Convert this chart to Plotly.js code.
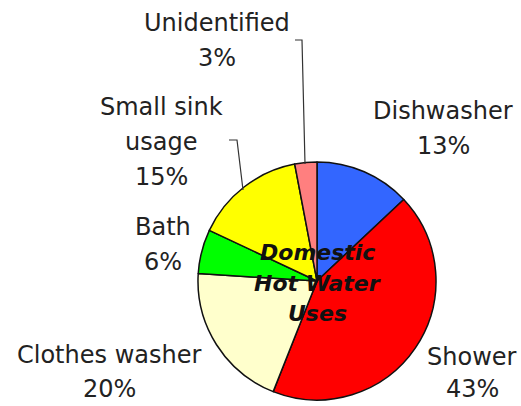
<!DOCTYPE html>
<html>
<head>
<meta charset="utf-8">
<script src="https://cdn.plot.ly/plotly-3.0.1.min.js"></script>
<style>html,body{margin:0;padding:0;background:#fff;}#chart{width:521px;height:406px;}</style>
</head>
<body>
<div id="chart"></div>
<script>
const categories = ['Dishwasher', 'Shower', 'Clothes washer', 'Bath', 'Small sink usage', 'Unidentified'];
const labelLines = [['Dishwasher'], ['Shower'], ['Clothes washer'], ['Bath'], ['Small sink', 'usage'], ['Unidentified']];
const shares = [13, 43, 20, 6, 15, 3];
const sliceColors = ['#3366FF', '#FF0000', '#FFFFCC', '#00FF00', '#FFFF00', '#FF7F7F'];
const centerTitle = ['Domestic', 'Hot Water', 'Uses'];

// label anchor: [x centre, y of first line, line gap] in pixels from top-left
const labelPos = [
  [443, 111, 35], [472, 357, 32], [109, 355, 34], [163, 227, 35], [161, 107, 35], [217, 23, 35]
];

const W = 521, H = 406;
const cx = 317, cy = 281, r = 119;
const px = (x) => x / W, py = (y) => 1 - y / H;

const trace = {
  type: 'pie',
  labels: categories,
  values: shares,
  sort: false,
  direction: 'clockwise',
  rotation: 0,
  textinfo: 'none',
  hoverinfo: 'label+percent',
  marker: { colors: sliceColors, line: { color: '#111', width: 1.5 } },
  domain: { x: [px(cx - r), px(cx + r)], y: [py(cy + r), py(cy - r)] },
  showlegend: false
};

const labelFont = { family: 'DejaVu Sans, sans-serif', size: 24, color: '#222' };
const annotations = [];
categories.forEach((c, i) => {
  const lines = labelLines[i].concat([shares[i] + '%']);
  lines.forEach((t, j) => {
    annotations.push({
      xref: 'paper', yref: 'paper',
      x: px(labelPos[i][0]), y: py(labelPos[i][1] + j * labelPos[i][2]),
      xanchor: 'center', yanchor: 'middle',
      text: t, showarrow: false, font: labelFont
    });
  });
});
centerTitle.forEach((t, j) => {
  annotations.push({
    xref: 'paper', yref: 'paper',
    x: px(cx), y: py(253 + j * 30),
    xanchor: 'center', yanchor: 'middle',
    text: '<b><i>' + t + '</i></b>', showarrow: false,
    font: { family: 'DejaVu Sans, sans-serif', size: 22, color: '#111' }
  });
});

const shapes = [
  { type: 'path', xref: 'paper', yref: 'paper',
    path: `M ${px(295)} ${py(40)} L ${px(302)} ${py(40)} L ${px(305)} ${py(164)}`,
    line: { color: '#333', width: 1.2 } },
  { type: 'path', xref: 'paper', yref: 'paper',
    path: `M ${px(229)} ${py(140)} L ${px(237)} ${py(140)} L ${px(243)} ${py(190)}`,
    line: { color: '#333', width: 1.2 } }
];

Plotly.newPlot('chart', [trace], {
  width: W, height: H,
  margin: { l: 0, r: 0, t: 0, b: 0 },
  paper_bgcolor: '#fff',
  annotations: annotations,
  shapes: shapes
}, { displayModeBar: false, staticPlot: true });
</script>
</body>
</html>
